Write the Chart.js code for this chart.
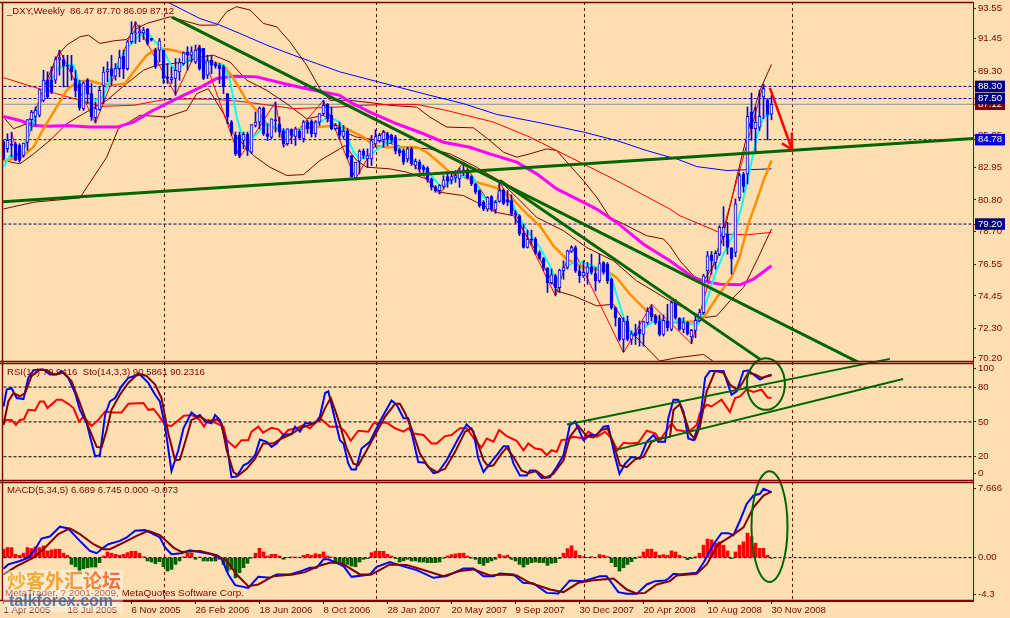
<!DOCTYPE html>
<html><head><meta charset="utf-8">
<style>html,body{margin:0;padding:0;background:#FDDFB1}canvas{display:block}</style>
<script src="https://cdn.jsdelivr.net/npm/chart.js@4/dist/chart.umd.min.js"></script>
</head><body><canvas id="c" width="1010" height="618" style="width:1010px;height:618px"></canvas>
<script>
// ---- candles (weekly) ----
const opens=[84.62,84.18,84.51,84.51,84.40,83.73,84.62,86.10,86.32,86.39,87.38,88.71,88.71,88.71,90.08,90.08,89.70,89.63,88.82,88.49,86.83,88.71,87.82,86.23,86.76,88.37,89.26,89.48,88.97,89.48,90.30,89.48,91.25,91.76,91.84,91.84,92.07,91.47,90.70,90.70,90.70,88.93,88.75,88.82,89.26,89.81,90.58,90.36,89.92,90.81,90.81,89.04,90.03,89.81,89.70,89.59,87.82,85.94,85.06,85.06,84.73,85.17,83.95,85.72,85.94,86.87,85.17,84.95,86.10,85.83,85.35,84.51,85.44,84.99,85.35,84.84,85.94,86.01,85.17,85.94,86.50,87.11,
86.38,85.50,85.61,84.99,85.34,83.73,82.25,83.36,84.02,83.51,83.51,84.50,84.72,84.77,85.17,85.06,84.95,84.11,84.06,83.51,84.17,83.07,83.29,82.96,82.91,82.18,81.63,81.41,81.68,82.34,82.12,82.25,82.18,82.56,82.78,82.34,81.85,81.41,80.64,80.19,81.01,80.13,80.70,81.45,80.79,80.75,79.91,79.75,78.58,77.65,78.21,78.21,77.32,76.92,76.28,75.33,75.77,75.00,76.11,76.33,77.39,77.65,76.11,75.77,75.93,76.37,75.93,75.44,76.66,76.55,75.55,73.67,72.97,71.58,72.79,71.58,72.02,72.24,71.91,72.68,73.67,73.12,72.79,71.91,
72.79,72.24,74.01,72.97,72.24,72.68,71.73,72.17,72.79,73.34,76.11,77.17,76.66,77.21,78.36,78.54,77.61,77.32,80.92,82.51,82.51,86.60,85.50,85.61,87.60,87.42,86.47];
const closes=[83.51,84.73,84.40,83.40,83.40,84.55,86.10,86.61,86.72,88.09,88.71,87.60,87.93,90.08,90.21,89.66,89.63,89.26,88.00,86.89,88.53,87.78,86.28,86.83,88.04,89.24,89.41,88.97,89.48,90.21,89.48,91.25,91.80,91.84,91.98,92.02,91.14,91.36,89.59,91.31,88.82,88.82,88.88,89.37,89.88,90.52,90.36,90.58,90.70,89.48,88.82,89.99,89.70,89.63,89.48,88.26,86.28,85.28,83.84,83.73,85.13,84.07,85.77,85.94,86.87,85.17,84.99,86.16,86.01,85.28,84.51,85.50,85.06,85.50,84.90,85.94,85.50,85.17,85.94,86.50,87.05,86.16,
85.50,85.72,85.06,85.34,83.62,82.34,83.29,84.02,83.73,83.73,84.72,84.99,85.06,85.28,84.84,84.77,84.02,83.89,83.29,84.17,83.18,83.35,82.85,82.78,82.12,81.63,81.41,81.74,82.12,82.07,82.34,82.40,82.63,82.78,82.25,81.85,81.30,80.42,80.19,80.97,80.19,80.64,81.41,80.57,80.64,79.86,79.82,78.54,77.65,78.21,78.14,77.32,76.92,76.33,75.33,75.84,75.00,76.15,76.33,77.43,77.65,76.11,75.77,76.00,76.37,76.00,75.44,76.59,76.00,75.44,73.67,73.01,71.58,72.79,71.58,71.95,71.80,71.95,72.75,73.45,73.06,72.68,71.91,72.84,
72.35,74.01,73.01,72.24,72.68,71.95,72.17,72.84,73.34,75.77,77.10,76.77,77.26,78.98,78.98,77.65,76.88,80.53,82.40,81.68,86.32,85.50,85.94,86.32,88.15,86.45,87.12];
const highs=[84.73,85.17,85.28,84.62,84.51,84.55,86.10,86.72,86.94,88.09,89.37,89.26,89.59,90.25,90.70,90.36,90.36,90.36,89.37,88.71,88.60,88.82,88.49,87.27,88.31,89.59,89.92,90.36,89.81,90.70,90.70,91.36,92.57,92.57,92.35,92.20,92.13,91.47,90.81,91.47,90.70,89.81,89.59,90.14,90.14,90.58,90.92,90.92,91.03,91.03,90.81,90.36,90.36,89.90,89.81,89.70,87.82,86.05,85.28,85.28,85.28,85.28,85.77,86.61,86.94,86.94,85.83,86.16,87.27,86.28,85.50,85.50,85.50,85.61,85.45,86.05,86.05,86.10,86.05,86.50,87.38,87.16,
86.93,85.85,85.94,85.72,85.50,83.73,83.29,84.11,84.17,84.17,85.06,85.43,85.20,85.39,85.28,85.15,85.06,84.20,84.17,84.28,84.28,83.51,83.44,83.10,83.00,82.25,81.74,81.81,82.40,82.63,82.63,82.74,82.91,83.29,82.85,82.40,81.90,81.45,80.75,81.01,81.08,80.75,82.07,81.52,81.41,81.14,80.08,79.82,79.20,78.80,78.80,78.32,77.43,76.99,76.33,76.22,75.88,76.22,76.77,77.48,77.76,77.76,76.44,76.77,76.66,77.21,76.33,77.21,76.72,76.66,75.62,73.72,73.01,73.01,73.12,72.13,72.57,72.79,72.79,73.67,73.85,73.23,73.19,73.19,
73.90,74.12,74.23,73.01,73.01,72.75,72.24,73.12,73.57,75.88,77.39,77.39,77.43,79.09,80.35,79.31,77.65,80.86,82.56,82.63,86.94,87.86,86.94,88.04,88.44,87.49,87.70];
const lows=[83.45,83.95,83.62,83.40,83.29,83.62,84.07,85.39,85.72,86.28,87.27,87.49,87.82,88.49,89.04,88.26,88.26,88.71,87.60,86.72,86.72,87.16,86.05,85.88,86.72,87.16,88.60,88.37,88.71,88.93,88.82,89.37,91.14,91.14,91.25,91.40,91.03,91.30,89.48,89.92,88.49,88.49,88.49,87.71,88.71,89.70,89.37,89.92,89.81,89.37,88.75,88.82,89.14,89.50,88.49,87.82,85.83,85.06,83.73,83.58,84.18,83.73,83.84,85.61,85.50,85.06,84.73,84.84,85.28,84.95,84.29,84.40,84.51,84.40,84.80,84.62,85.20,84.95,84.95,85.72,86.39,85.94,
85.43,85.40,84.84,84.84,83.51,82.29,82.12,82.52,83.51,82.96,83.07,84.28,84.60,84.28,84.39,84.55,83.84,83.70,83.13,83.29,83.07,82.85,82.63,82.60,81.96,81.45,81.30,81.19,81.52,81.63,81.85,81.96,81.63,82.40,82.18,81.74,81.19,80.31,80.08,80.04,80.04,79.91,80.64,80.48,80.42,79.75,79.20,78.43,77.61,77.61,77.87,77.21,76.88,76.11,74.67,75.23,74.45,74.67,75.55,76.22,77.32,76.00,75.33,75.66,75.22,75.88,74.78,75.33,75.88,75.27,73.56,72.46,71.47,70.76,71.47,71.24,71.24,71.13,71.13,72.57,72.79,72.57,71.80,71.80,
72.13,72.13,72.90,72.17,72.02,71.86,71.29,71.69,72.75,73.23,75.44,75.89,76.22,77.10,77.76,77.21,75.89,77.04,80.75,81.30,81.85,84.73,83.84,85.39,86.16,84.77,86.09];

// ---- moving averages and bands: bar index + value at each bend ----
const cyanIdx=[0,1.6,4.1,5.8,7.9,9.1,11.6,13.7,15.4,17.5,18.7,20.8,22.9,25,26.6,28.7,31.2,34.1,36.2,37.9,40,41.6,43.3,45,47,50,52.5,55,56.6,58.3,59.5,61.2,63.7,65.8,70,73.3,76.6,79.1,81.2,84.1,85.8,87.5,89.1,91.6,94.1,96.6,99.1,101.6,104.1,106.6,109.1,110.8,113.3,115.8,117.5,119.5,121.2,123.3,125.8,127.5,129.1,131.6,134.1,136.6,138.3,140,142.5,145,148.3,150.8,152.5,155,157,159.1,160.8,163.3,166.6,169.1,171.6,173.7,175.4,177.9,180,182.9,184.5,186.2,188.3,190,192];
const cyanVal=[82.96,83.73,83.62,84.84,86.28,87.38,88.60,89.48,89.70,89.70,88.71,88.04,87.38,87.60,88.82,89.92,90.92,91.69,91.80,91.25,90.70,89.81,89.26,89.81,90.25,90.03,89.81,89.70,88.71,86.28,85.17,84.62,85.28,85.83,85.39,85.35,85.83,85.94,86.28,85.94,85.06,83.95,83.51,83.73,84.28,84.72,84.17,83.51,83.18,82.52,81.74,81.85,82.29,82.40,82.29,81.19,80.64,80.70,80.79,80.42,79.53,78.54,77.65,76.44,75.44,76.22,76.66,76.66,76.33,76.44,75.22,73.01,71.91,72.13,72.46,72.90,72.57,72.90,72.57,72.57,73.79,75.89,77.21,78.76,80.31,82.30,84.95,86.27,86.49];
const orangeIdx=[0,5,7.5,10,13.3,15.8,18.3,21.2,24.1,27.5,30.4,32.5,35.8,38.3,41.6,45.8,49.1,52.5,55,57.5,60.8,63.7,65.8,68.3,70.8,74.1,78.3,84.1,86.6,90,92.5,95.8,103.3,105.8,108.3,111.6,115,118.3,123.3,126.6,130,134.1,137.5,140.8,145,150.8,153.3,156.6,160.8,165.8,172.5,175,178.3,182,184,186.2,188.3,190,192];
const orangeVal=[83.34,83.73,84.29,85.50,86.94,88.04,88.60,88.71,88.49,88.37,88.49,89.26,90.36,90.81,90.74,90.47,90.03,89.92,89.70,88.82,87.38,86.61,85.83,85.50,85.28,85.50,85.61,85.72,85.39,84.95,84.39,84.28,84.28,83.95,83.40,82.63,82.34,81.96,81.59,81.08,80.08,79.09,77.76,76.88,76.33,76.11,75.66,74.56,73.45,72.68,72.75,73.01,74.34,75.67,76.99,79.20,80.75,82.07,83.40];
const magentaIdx=[0,4.1,7.5,11.6,15.8,21.6,28.3,32.5,36.6,40.8,45,49.1,53.3,57.5,63.3,70,75.8,84.1,86.6,91.6,98.3,105,110,116.6,121.6,128.3,133.3,138.3,143.3,148.3,153.3,160,166.6,168.3,172.5,175,179.1,184.1,187.5,192];
const magentaVal=[86.32,86.05,85.72,85.66,85.72,85.61,85.61,85.94,86.61,87.16,87.71,88.22,88.82,88.97,88.93,88.49,88.15,87.71,87.27,86.60,85.83,85.17,84.61,84.28,83.84,83.29,82.52,81.52,80.86,80.19,79.31,77.87,76.77,76.44,75.67,75.44,75.22,75.18,75.55,76.44];
const blueMaIdx=[36,42,49.1,54.1,59.1,65.8,72.5,78.3,84.1,106.6,115,123.3,133.3,145,153.3,160.8,166.6,168.3,173.3,180.8,192];
const blueMaVal=[94.60,93.74,92.79,92.35,91.80,91.03,90.36,89.81,89.26,87.71,87.16,86.45,85.94,85.28,84.72,84.06,83.62,83.51,83.00,82.74,82.85];
const redMaIdx=[0,7.5,13.3,19.1,24.5,32.5,40,46.2,52.5,59.1,65,72.5,84.1,90,96.6,103.3,110.8,122.5,131.6,138.3,146.6,153.3,166.6,169.1,175,180,185.8,192];
const redMaVal=[88.88,88.26,87.82,87.38,86.98,87.05,87.42,87.47,87.45,87.31,87.11,86.83,86.94,87.05,87.11,87.11,86.71,85.94,84.95,84.06,82.96,82.07,80.19,79.75,79.09,78.54,78.49,78.65];
const zigzagIdx=[2,4,14,23,33,43,49,59,68,70,80,88,95,109,115,123,124,138,142,155,162,172,190];
const zigzagVal=[85.28,83.29,90.70,85.88,92.57,87.76,91.03,83.58,87.27,84.29,87.38,82.18,85.39,81.19,83.29,79.91,82.07,74.45,77.76,70.69,73.90,71.29,88.44];
const bandUpIdx=[0,2.5,5.8,8.3,10.8,13.3,15.8,19.1,21.2,24.1,27.5,30.8,33.3,35.8,41.6,49.1,53.3,55.8,58.3,61.6,65,68.3,71.6,75.8,79.1,81.6,86.6,92.5,96.6,103.3,106.6,110.8,117.5,121.6,125,128.3,131.6,135.8,138.3,141.6,145,148.3,151.6,155,160.8,165,166.6,169.1,172.5,175,178.3,180.8,183.3,186.6,189.1,192];
const bandUpVal=[86.28,85.50,85.83,86.94,88.71,90.25,91.03,91.58,91.69,91.14,91.31,91.40,92.13,92.46,92.90,92.35,92.35,93.24,93.57,93.35,92.46,92.24,91.25,89.70,88.15,87.38,87.38,87.20,87.05,86.93,86.27,85.61,85.56,84.72,83.95,83.62,83.84,84.17,84.06,83.07,82.07,80.97,79.64,79.20,78.43,78.21,77.76,76.77,75.77,75.44,76.77,79.42,82.30,85.83,88.04,89.76];
const bandMidIdx=[0,4.1,7.5,11.6,15.8,20,25.8,30.8,35,38.3,45.8,49.1,52.5,56.6,60.8,65.8,70.8,75.8,80,84.1,88.3,94.1,100,106.6,111.6,117.5,124,128.3,133.3,140,145.8,152.5,158.3,166.6,168.3,172.5,175,178.3,181.6,185,188.3,192];
const bandMidVal=[83.40,83.18,83.84,84.73,85.83,86.50,87.38,88.49,89.37,89.70,89.92,90.25,90.36,89.92,88.71,88.04,87.16,86.16,86.39,85.39,84.95,84.72,84.28,84.17,83.84,83.07,82.07,80.97,79.64,78.76,77.65,76.77,75.44,74.12,73.90,73.35,73.01,73.12,74.12,75.00,76.77,78.87];
const bandLowIdx=[0,7.5,19.1,22.5,25.8,28.7,34.1,40.8,45.8,48.3,51.2,55,57.5,62.5,66.6,70.8,75,79.1,84.1,85.4,88.3,90.8,96.6,100.8,105.8,109.1,115,118.3,123.3,127.5,131.6,136.6,138.3,142.5,148.3,152.5,156.6,160.8,164,168.3,175,177.9];
const bandLowVal=[80.20,80.64,80.93,82.30,83.62,85.50,86.39,86.28,86.72,87.82,88.15,86.50,85.17,83.73,82.96,82.41,82.47,83.40,84.18,84.39,83.40,82.96,82.85,82.63,82.18,81.30,81.08,80.64,79.97,79.75,78.09,75.66,74.78,74.45,73.79,73.90,72.13,71.02,70.14,70.36,70.58,70.03];

// ---- RSI / Stochastic panel ----
const stoMainIdx=[0,0.8,2,3.3,5,6.2,7.5,10,11.6,13.3,14.5,16.2,17.9,19.1,20.8,22.9,24.1,25.4,26.6,27.9,29.5,31.2,34.1,36.2,37.9,39.1,40.4,42,43.7,45,47,48.3,49.1,50.4,52,52.9,54.1,55.8,57,58.3,60,61.2,62.9,64.1,65.8,67,68.3,70,72,72.9,74.1,75.4,77.9,79.1,80.4,81.2,82.5,84.1,85,86.2,87,88.1,89.5,91.6,94.1,97,98.3,100,101.2,103.7,105.4,107.5,108.7,110.8,113.7,115.8,117.5,118.7,120,121.6,123.3,125,126.2,127.5,129.1,130.8,131.6,132.9,134.5,136.6,138.3,140,141.6,142.9,145,146.6,148.3,150,151.2,152.9,154,155.4,157,159.1,160.8,162.5,163.7,165.4,166.2,167.5,168.7,170,171.2,172.5,174.1,175.4,176.6,180,182,183.3,185,186.2,189.1,190.8,192];
const stoMainVal=[63.3,77.8,79.2,70.6,69.7,87.9,94.6,95.2,90.9,90.9,93.8,87.9,74.9,60.4,48.8,20.4,21.3,56.0,67.6,70.6,80.7,87.9,90.9,83.6,73.4,67.6,45.9,7.6,25.6,44.5,58.1,54.6,56.0,50.3,48.8,56.0,51.7,31.4,2.4,3.0,12.6,14.6,21.3,34.9,32.9,28.5,31.4,38.7,39.5,45.9,41.6,48.8,48.8,54.6,74.9,76.4,57.5,34.3,31.4,14.0,9.1,9.1,27.1,32.9,50.3,68.5,64.8,53.2,53.2,15.4,14.9,5.9,6.8,16.9,35.7,47.9,41.6,18.4,6.8,14.0,21.3,29.1,29.1,14.0,3.9,3.9,8.2,8.2,1.8,2.4,11.1,21.3,47.4,50.3,34.3,38.7,38.7,45.9,46.5,19.8,5.3,14.0,19.8,18.4,32.9,38.7,32.9,32.9,53.2,69.1,69.1,59.0,35.8,34.3,50.3,88.0,93.8,93.8,73.5,76.4,93.8,94.3,86.5,89.4,90.6];
const stoSigIdx=[0,1.2,2.5,4.1,5.4,7,9.1,10.8,12.5,15,17,19.1,21.2,23.3,24.5,25.8,27,29.1,31.2,33.7,35.8,37.9,39.5,41.2,42.9,44.1,45.8,47,49.1,51.2,53.3,54.5,55.8,57.5,58.7,60.8,62.9,64.9,67.4,69.5,72,74.1,76.6,79.1,80.4,81.8,83.3,84.1,85.8,87.5,88.7,90.8,92.9,95.4,97.9,99.1,100.4,102,104.1,106.2,108.3,110.4,112.9,115.4,117,118.3,120,121.2,122.5,124.5,125.8,127.5,129.5,131.2,133.3,135.4,137.5,140,141.6,143.7,145.8,147.5,149.5,151,152.5,154.1,155.8,157.9,160,162,164.1,166.6,167.5,169.1,170.4,171.6,172.9,174.1,175.8,177.9,180,181.6,183.3,184.5,186.2,187.9,189.5,192];
const stoSigVal=[47.4,67.6,74.9,72.0,74.9,89.4,95.2,94.6,90.9,92.3,85.1,66.2,45.9,28.5,27.9,43.0,60.4,73.4,83.6,91.7,89.4,82.2,70.6,40.1,16.9,17.5,37.2,51.7,54.6,50.3,52.3,48.8,25.6,6.8,3.9,9.6,18.4,31.4,31.4,35.7,39.5,44.5,47.4,51.7,61.9,70.6,56.0,47.4,27.1,14.0,12.6,25.6,38.7,54.6,65.6,65.6,57.5,44.5,22.7,11.1,6.8,9.6,24.2,41.6,44.5,34.3,16.9,11.7,12.6,22.7,27.9,19.8,8.2,5.9,7.6,1.8,5.3,16.9,37.2,46.5,37.8,36.6,43.0,44.5,31.4,12.6,11.1,17.8,19.8,32.9,35.7,37.2,60.4,65.3,53.2,40.1,35.2,45.9,76.4,93.8,92.3,82.2,77.8,82.2,92.3,90.9,88.0,90.2];
const rsiIdx=[0,2,3.1,4.1,5.1,6.2,7.9,9.1,10.1,11,13.3,14.5,16.2,17.5,18.9,20,22,23.7,25.4,27.5,29.5,31.2,35,36.2,37.5,38.7,40.4,42,45,47,49.1,50.1,51.2,53.3,55,55.8,57.9,59.5,61.2,62,63.7,64.9,67,68.7,70,71.2,73.3,75,76.6,79.1,81.6,84.1,85.4,86.8,88.7,91.2,92.5,95.8,97.9,100,101.2,102.5,105,107,108.3,110.4,112,114.1,115.8,117.9,119.5,120.8,122.5,123.9,125.8,128.3,130,131.2,132.9,134.5,135.8,137,138.3,139.5,140.8,142.5,145,146.2,148.3,150.4,152,153.5,155,156.6,158.7,160.8,162.9,164.1,165.4,167,168.3,170,171.2,173.3,174.1,175.8,177,179.5,181.6,182.9,184.1,185.8,187.5,189.5,191,192];
const rsiVal=[51.7,51.7,47.4,51.7,52.3,60.4,59.8,67.6,67.6,61.9,69.1,69.1,65.6,61.9,50.3,54.6,46.5,51.7,59.0,58.1,58.1,65.6,66.2,60.4,61.0,56.0,47.4,46.5,55.2,56.0,51.7,45.9,51.7,48.8,45.9,34.3,27.9,34.3,34.3,41.6,45.9,40.7,45.0,43.6,38.7,43.0,44.5,47.4,44.5,53.2,45.9,45.9,41.6,33.7,42.4,41.6,48.8,49.4,44.5,41.6,44.5,40.1,38.7,31.4,31.4,37.8,38.7,44.5,44.5,34.3,27.9,35.7,32.9,43.0,37.8,33.7,25.6,31.4,27.1,26.2,21.3,25.6,24.2,34.3,34.9,37.2,35.7,41.6,37.2,41.6,35.7,25.6,32.0,31.4,32.0,42.4,40.1,34.3,40.7,48.8,43.0,42.2,41.0,47.4,57.5,64.8,63.3,69.1,58.4,70.6,72.0,77.8,75.8,77.8,71.1,70.9];

// ---- MACD panel ----
const macdIdx=[0,1.2,4.1,6.2,7.9,9.5,11.6,14.1,16.2,17.9,19.5,21.6,23.3,25,26.2,29.1,30.8,32.9,35.4,37.5,39.1,40.4,42,44.5,46.6,49.1,52,54.5,56.2,57.9,61.2,63.7,66.6,68.3,71.6,74.5,76.6,78.3,80,81.2,84.1,85,87,91.6,93.3,96.6,99.1,103.3,107.5,110.8,115,117.5,120,122.5,124.1,127.5,129.9,132.5,135.8,138.7,141.6,145,149.1,150.8,153.7,155.8,158.3,160.8,162.9,165.4,166.2,167.5,169.1,173.3,175,177.5,179.5,181.2,182.5,184.1,185.8,187.5,189.1,190,192];
const macdVal=[-1.13,-0.69,-0.34,0,0.86,1.95,2.16,3.16,2.98,2.23,1.54,0.69,0.45,1.03,1.37,1.71,2.06,2.74,2.81,2.40,2.06,1.03,0.34,0.45,0.75,0.58,0.34,-0.10,-1.72,-2.81,-3.09,-1.96,-2.06,-1.72,-1.72,-1.37,-1.03,-1.03,-0.17,-0.17,-0.69,-0.86,-1.96,-1.72,-0.93,-0.45,-0.79,-1.27,-2.06,-1.89,-1.10,-1.10,-1.89,-1.89,-1.61,-1.72,-2.57,-2.64,-3.60,-3.67,-2.33,-2.40,-1.89,-1.89,-3.53,-3.70,-3.70,-2.74,-2.40,-2.33,-2.16,-1.65,-1.72,-1.54,-0.52,1.37,2.50,2.50,2.30,3.77,5.49,6.35,6.52,7.03,6.69];
const macdSigIdx=[0,3.3,7.5,10,13.7,16.6,19.1,22.5,25,26.6,30,33.3,36.2,39.1,42.5,44.5,49.1,53.3,55.8,58.3,61.2,63.7,67.4,72.4,75.4,78.7,81.6,84.1,85,89.1,92,96.6,100.8,105,110,114.1,117.5,121.6,125,128.3,131.6,136.6,140,143.7,147.5,152.5,155.8,158.3,160.4,163.3,166.6,168.3,173.3,175.8,178.7,182,185,187.5,190,192];
const macdSigVal=[-1.72,-0.86,0,0.86,2.40,2.98,2.40,1.37,0.86,0.86,1.54,2.23,2.74,2.30,1.03,0.58,0.69,0.24,-0.34,-1.72,-2.92,-2.74,-1.89,-1.72,-1.48,-0.86,-0.52,-0.52,-0.69,-1.72,-1.72,-0.69,-0.76,-1.27,-1.89,-1.37,-1.20,-1.82,-1.72,-1.82,-2.57,-3.26,-3.53,-2.57,-2.30,-2.13,-3.26,-3.67,-3.60,-2.74,-2.40,-1.82,-1.65,-0.69,1.37,2.23,3.09,5.14,6.35,6.75];
const macdHist=[.86,1.03,1.03,.34,.24,.45,1.03,.93,1.10,1.03,1.20,.69,.79,.86,.86,.45,.24,-.69,-.93,-1.37,-1.13,-1.03,-.96,-.96,-.51,.17,.58,.45,.34,.24,.34,.51,.65,.65,.45,.10,-.34,-.45,-.62,-.41,-.93,-1.37,-1.20,-.69,-.34,.10,.45,.45,-.17,.07,-.34,-.34,-.34,-.34,-.17,-.69,-1.37,-1.20,-2.06,-1.54,-1.03,-.58,-.03,.45,.96,.58,.17,.34,.34,.17,-.17,0,.07,.07,0,.24,.34,.24,.41,.34,.58,.17,.07,-.51,-.51,-.93,-.69,-.86,-.93,-.45,-.17,-.10,.51,.65,.65,.65,.34,.17,-.10,-.45,-.34,-.17,-.34,-.34,-.45,-.45,-.51,-.51,-.51,-.45,-.03,.17,.31,.38,.45,.45,.17,-.03,-.17,-.62,-.79,-.51,-.34,-.17,.34,.17,.24,-.17,-.34,-.69,-.96,-.69,-.51,-.45,-.51,-.51,-.79,-.58,-.51,-.10,.45,.93,1.20,.69,.24,.10,0,.10,0,.31,.24,.10,-.51,-.93,-1.37,-1.03,-.69,-.41,-.10,.10,.58,.86,.86,.58,.24,.31,.24,.69,.58,.24,.07,-.21,-.10,.10,.45,1.27,1.89,1.82,1.47,1.61,1.27,.69,-.10,.58,1.27,1.61,2.50,2.16,1.47,.96,.96,.24,-.07];

// ---- drawn objects ----
const levelsDashed=[88.30,87.50,84.78,79.20];
const levelBid=[87.12];
const rsiLevels=[80,50,20];
const macdLevels=[0];
const trendPriceIdx=[[42.1,214.1],[124.1,189.1],[-0.1,242.4]];
const trendPriceVal=[[92.88,70.01],[82.08,70.27],[80.68,84.86]];
const trendRsiIdx=[[140.9,221.6],[153.1,224.9]];
const trendRsiVal=[[47.8,104.3],[25.9,87.0]];
const arrowIdx=[[191.6,197.1],[197.1,197.1],[194.6,197.1]];
const arrowVal=[[88.20,84.13],[85.26,84.13],[84.53,84.13]];
const separators=[40,93,145,197];
// ellipses: centre index, centre value, half-width in bars, half-height in values
const ellipseRsi=[190.6,82.6,4.75,22.2];
const ellipseMacd=[191.5,3.17,4.5,5.66];

// ---- axes ----
const dateTickIdx=[0,16,32,48,64,80,96,112,128,144,160,176,192];
const dateLabels=["1 Apr 2005","18 Jul 2005","6 Nov 2005","26 Feb 2006","18 Jun 2006","8 Oct 2006","28 Jan 2007","20 May 2007","9 Sep 2007","30 Dec 2007","20 Apr 2008","10 Aug 2008","30 Nov 2008"];
const priceTicks=[93.45,91.45,89.30,85.05,82.95,80.80,78.70,76.55,74.45,72.30,70.35,87.12,87.50,88.30,84.78,79.20];
const priceLabels=["93.55","91.45","89.30","85.05","82.95","80.80","78.70","76.55","74.45","72.30","70.20","87.12","87.50","88.30","84.78","79.20"];
const priceTagColors=[null,null,null,null,null,null,null,null,null,null,null,"#800000","#000080","#000080","#0000E0","#000080"];
const rsiTicks=[96,80,50,20,5.5];
const rsiLabels=["100","80","50","20","0"];
const macdTicks=[7.1,0,-3.8];
const macdLabels=["7.666","0.00","-4.3"];

const MAROON="#800000",GREEN="#006400",BLUE="#0000E6";
const FONT='"Liberation Sans",sans-serif';
const PAPER="#FDDFB1";
const pts=(xs,ys)=>xs.map((x,k)=>({x,y:ys[k]}));
const line=(xs,ys,color,width,axis,extra)=>Object.assign({type:"line",data:pts(xs,ys),borderColor:color,borderWidth:width,pointRadius:0,tension:0,fill:false,yAxisID:axis},extra||{});
const idx=opens.map((_,i)=>i);
const up=idx.map(i=>closes[i]>=opens[i]);
const xEnds=[0,243];

const datasets=[];
// topmost first
arrowIdx.forEach((xs,k)=>datasets.push(line(xs,arrowVal[k],"#FF0000",2.5,"yP")));
trendRsiIdx.forEach((xs,k)=>datasets.push(line(xs,trendRsiVal[k],GREEN,2,"yR",{clip:false})));
trendPriceIdx.forEach((xs,k)=>datasets.push(line(xs,trendPriceVal[k],GREEN,3,"yP")));
datasets.push({type:"bar",data:idx.map(i=>({x:i,y:[opens[i],closes[i]]})),backgroundColor:idx.map(i=>up[i]?PAPER:BLUE),borderColor:BLUE,borderWidth:1,borderSkipped:false,barThickness:3,grouped:false,yAxisID:"yP"});
datasets.push({type:"bar",data:idx.map(i=>({x:i,y:[lows[i],highs[i]]})),backgroundColor:BLUE,borderWidth:0,barThickness:1,grouped:false,yAxisID:"yP"});
datasets.push(line(cyanIdx,cyanVal,"#00FFFF",2,"yP"));
datasets.push(line(orangeIdx,orangeVal,"#FF9000",2.5,"yP"));
datasets.push(line(magentaIdx,magentaVal,"#FF00FF",3,"yP"));
datasets.push(line(blueMaIdx,blueMaVal,"#0000FF",1,"yP"));
datasets.push(line(zigzagIdx,zigzagVal,"#FF0000",1,"yP"));
datasets.push(line(redMaIdx,redMaVal,"#FF0000",1,"yP"));
datasets.push(line(bandUpIdx,bandUpVal,MAROON,1,"yP"));
datasets.push(line(bandMidIdx,bandMidVal,MAROON,1,"yP"));
datasets.push(line(bandLowIdx,bandLowVal,MAROON,1,"yP"));
levelBid.forEach(v=>datasets.push(line(xEnds,[v,v],"#7C93B4",1,"yP")));
levelsDashed.forEach(v=>datasets.push(line(xEnds,[v,v],"#000099",1,"yP",{borderDash:[3,2]})));
datasets.push(line(stoSigIdx,stoSigVal,MAROON,2,"yR"));
datasets.push(line(stoMainIdx,stoMainVal,"#0000FF",2,"yR"));
datasets.push(line(rsiIdx,rsiVal,"#FF0000",2,"yR"));
rsiLevels.forEach(v=>datasets.push(line(xEnds,[v,v],"#000000",1,"yR",{borderDash:[3,2]})));
datasets.push(line(macdSigIdx,macdSigVal,MAROON,2,"yM"));
datasets.push(line(macdIdx,macdVal,"#0000FF",2,"yM"));
macdLevels.forEach(v=>datasets.push(line(xEnds,[v,v],"#000000",1,"yM",{borderDash:[3,2]})));
datasets.push({type:"bar",data:idx.map(i=>({x:i,y:macdHist[i]})),backgroundColor:idx.map(i=>macdHist[i]>=0?"#FF0000":GREEN),barThickness:3,grouped:false,yAxisID:"yM"});

const yAxis=(min,max,weight,ticks,labels,tags)=>({
  axis:"y",position:"right",stack:"panels",stackWeight:weight,min,max,
  afterFit(s){s.width=37;s.paddingTop=0;s.paddingBottom=0},
  afterBuildTicks(s){s.ticks=ticks.map(value=>({value}))},
  border:{display:true,color:MAROON,width:1},
  grid:{drawOnChartArea:false,drawTicks:true,tickLength:3,color:MAROON},
  ticks:{autoSkip:false,maxRotation:0,padding:2,color:c=>tags&&tags[c.index]?"#FFFFFF":MAROON,font:{family:FONT,size:9.6},
    callback:(v,i)=>labels[i],
    showLabelBackdrop:c=>!!(tags&&tags[c.index]),
    backdropColor:c=>(tags&&tags[c.index])||"rgba(0,0,0,0)",
    backdropPadding:{x:3,y:0}}
});

const decor={id:"decor",
  beforeDatasetsDraw(ch){
    const g=ch.ctx,a=ch.chartArea,sx=ch.scales.x;
    g.save();g.strokeStyle=MAROON;g.lineWidth=1;g.setLineDash([3,3]);
    separators.forEach(v=>{const px=Math.round(sx.getPixelForValue(v))+.5;g.beginPath();g.moveTo(px,a.top);g.lineTo(px,a.bottom);g.stroke();});
    g.restore();
  },
  afterDatasetsDraw(ch){
    const g=ch.ctx,a=ch.chartArea,sx=ch.scales.x,{yP,yR,yM}=ch.scales;
    g.save();
    g.strokeStyle=GREEN;g.lineWidth=2;
    [[ellipseRsi,yR],[ellipseMacd,yM]].forEach(([e,sy])=>{
      const cx=sx.getPixelForValue(e[0]),cy=sy.getPixelForValue(e[1]);
      const rx=Math.abs(sx.getPixelForValue(e[0]+e[2])-cx),ry=Math.abs(sy.getPixelForValue(e[1]+e[3])-cy);
      g.beginPath();g.ellipse(cx,cy,rx,ry,0,0,Math.PI*2);g.stroke();
    });
    // panel frames (double rule between panels)
    g.strokeStyle=MAROON;g.lineWidth=1.4;
    [yP,yR,yM].forEach((s,k)=>{
      g.beginPath();g.moveTo(0,Math.round(s.top)+(k?1.5:.5));g.lineTo(a.right,Math.round(s.top)+(k?1.5:.5));g.stroke();
      g.beginPath();g.moveTo(0,Math.round(s.bottom)-.5);g.lineTo(a.right,Math.round(s.bottom)-.5);g.stroke();
    });
    g.beginPath();g.moveTo(a.left-.5,a.top);g.lineTo(a.left-.5,a.bottom);g.stroke();
    // panel captions
    g.fillStyle=MAROON;g.font='9.6px '+FONT;g.textBaseline="middle";g.textAlign="left";
    g.fillText("_DXY,Weekly  86.47 87.70 86.09 87.12",7,yP.top+9);
    g.fillText("RSI(14) 70.9416  Sto(14,3,3) 90.5861 90.2316",7,yR.top+10);
    g.fillText("MACD(5,34,5) 6.689 6.745 0.000 -0.073",7,yM.top+9);
    g.font='9.9px '+FONT;
    g.fillText("MetaTrader, ? 2001-2009, MetaQuotes Software Corp.",5,yM.bottom-8);
    g.restore();
  },
  afterDraw(ch){
    const g=ch.ctx;
    g.save();
    g.fillStyle="rgba(255,255,255,0.38)";g.fillRect(3,570,120,42);
    g.textBaseline="middle";g.textAlign="left";
    const grad=g.createLinearGradient(0,0,125,0);grad.addColorStop(0,"#E8B020");grad.addColorStop(.55,"#F09020");grad.addColorStop(1,"#E85030");
    g.fillStyle=grad;g.globalAlpha=.85;g.font='bold 19px "Noto Sans CJK SC"';
    g.fillText("炒客外汇论坛",7,581);
    g.globalAlpha=.85;g.fillStyle="#3A6A9C";g.font='bold 16px "Liberation Sans",sans-serif';
    g.fillText("talkforex.com",9,602);
    g.restore();
  }
};

new Chart(document.getElementById("c"),{
  type:"bar",
  data:{datasets},
  plugins:[decor],
  options:{
    responsive:false,animation:false,devicePixelRatio:1,events:[],
    layout:{autoPadding:false,padding:{left:3,top:2,right:0,bottom:0}},
    plugins:{legend:{display:false},tooltip:{enabled:false},title:{display:false}},
    scales:{
      x:{type:"linear",position:"bottom",min:-0.125,max:242.375,offset:false,
        afterFit(s){s.height=17;s.paddingLeft=0;s.paddingRight=0},
        afterBuildTicks(s){s.ticks=dateTickIdx.map(value=>({value}))},
        border:{display:true,color:MAROON,width:1},
        grid:{offset:false,drawOnChartArea:false,drawTicks:true,tickLength:3,color:MAROON},
        ticks:{autoSkip:false,maxRotation:0,align:"start",padding:1,color:MAROON,font:{family:FONT,size:9.6},callback:(v,i)=>dateLabels[i]}},
      yP:yAxis(70.08,93.88,360,priceTicks,priceLabels,priceTagColors),
      yR:yAxis(-0.9,101.6,119,rsiTicks,rsiLabels,null),
      yM:yAxis(-4.43,7.83,120,macdTicks,macdLabels,null)
    }
  }
});
</script></body></html>
